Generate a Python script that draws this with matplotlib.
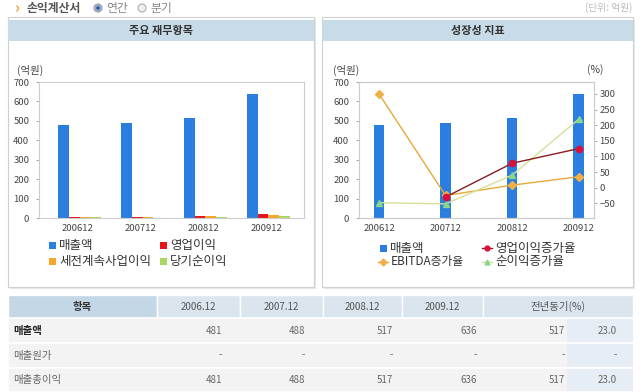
import numpy as np
import matplotlib
matplotlib.use('Agg')
import matplotlib.pyplot as plt
from matplotlib.patches import Rectangle, Circle

plt.rcParams['font.family'] = ['Noto Sans CJK KR', 'DejaVu Sans']

# 데이터
years = ['200612', '200712', '200812', '200912']
sales = [481, 488, 517, 636]
op_income = [6, 5, 11, 22]
pretax_income = [5, 4, 10, 17]
net_income = [3, 2, 6, 11]

op_growth = [np.nan, -30, 78, 125]
ebitda_growth = [300, -25, 8, 35]
net_growth = [-48, -52, 40, 219]

table_head = ['항목', '2006.12', '2007.12', '2008.12', '2009.12', '전년동기(%)']
table_items = ['매출액', '매출원가', '매출총이익']
table_vals = [['481', '488', '517', '636', '517', '23.0'],
              ['-', '-', '-', '-', '-', '-'],
              ['481', '488', '517', '636', '517', '23.0']]

c_sales = '#2a7ee0'
c_op = '#e3151a'
c_pre = '#f7a628'
c_net = '#a9d862'
grey = '#444444'

W, H = 640, 392
fig = plt.figure(figsize=(6.4, 3.92), dpi=100)

def px(x0, y0, x1, y1):
    return [x0 / W, 1 - y1 / H, (x1 - x0) / W, (y1 - y0) / H]

# 배경 (픽셀 좌표)
bg = fig.add_axes([0, 0, 1, 1])
bg.set_xlim(0, W)
bg.set_ylim(H, 0)
bg.axis('off')

# 상단 메뉴
bg.text(14, 8, '›', color='#f0a040', fontsize=11, va='center', fontweight='bold')
bg.text(27, 8, '손익계산서', color='#555555', fontsize=8.5, va='center', fontweight='bold')
bg.add_patch(Circle((98, 8), 4, facecolor='#8fb0d8', edgecolor='#a0a0a0', lw=0.8))
bg.add_patch(Circle((98, 8), 1.8, facecolor='#3060a0', edgecolor='none'))
bg.text(106, 8, '연간', color='#888888', fontsize=8.5, va='center')
bg.add_patch(Circle((142, 8), 4, facecolor='#eeeeee', edgecolor='#b0b0b0', lw=0.8))
bg.text(150, 8, '분기', color='#888888', fontsize=8.5, va='center')
bg.text(632, 8, '(단위: 억원)', color='#bbbbbb', fontsize=7, va='center', ha='right')

# 패널
for x0, x1, title in [(8, 314, '주요 재무항목'), (322, 633, '성장성 지표')]:
    bg.add_patch(Rectangle((x0 + 2, 19), x1 - x0, 270, facecolor='#e8e8e8', edgecolor='none'))
    bg.add_patch(Rectangle((x0, 17), x1 - x0, 270, facecolor='white', edgecolor='#d0d0d0', lw=0.8))
    bg.add_patch(Rectangle((x0, 20), x1 - x0, 21, facecolor='#c8dbe9', edgecolor='none'))
    bg.text((x0 + x1) / 2, 30.5, title, fontsize=8, fontweight='bold', color='#333333',
            ha='center', va='center')

# 왼쪽 차트
ax1 = fig.add_axes(px(39, 82, 304, 218))
x = np.arange(len(years))
bw = 0.17
for i, (vals, col) in enumerate([(sales, c_sales), (op_income, c_op),
                                 (pretax_income, c_pre), (net_income, c_net)]):
    ax1.bar(x - 1.5 * bw + i * bw, vals, bw, color=col, zorder=2)
ax1.set_xlim(-0.65, 3.57)
ax1.set_ylim(0, 700)
ax1.set_yticks(range(0, 701, 100))
ax1.set_xticks(x - 0.03)
ax1.set_xticklabels(years)

# 오른쪽 차트
ax2 = fig.add_axes(px(359, 82, 594, 218))
ax2.bar(x, sales, 0.16, color=c_sales, zorder=2)
ax2.set_xlim(-0.3, 3.23)
ax2.set_ylim(0, 700)
ax2.set_yticks(range(0, 701, 100))
ax2.set_xticks(x)
ax2.set_xticklabels(years)
ax3 = ax2.twinx()
ax3.set_ylim(-97, 338)
ax3.set_yticks(range(-50, 301, 50))
ax3.plot(x, ebitda_growth, color='#e8a838', lw=1, marker='D', ms=4,
         mfc='#f0b048', mec='#f0b048', zorder=3)
ax3.plot(x, op_growth, color='#8a1a20', lw=1, marker='o', ms=4.5,
         mfc='#d8103c', mec='#d8103c', zorder=4)
ax3.plot(x, net_growth, color='#d8df98', lw=1, marker='^', ms=5,
         mfc='#88d888', mec='#88d888', zorder=3)

for a in (ax1, ax2, ax3):
    for s in a.spines.values():
        s.set_color('#cccccc')
        s.set_linewidth(0.8)
    a.tick_params(labelsize=6.8, colors=grey, length=2, pad=2, width=0.6)
    a.tick_params(axis='y', colors='#999999', labelcolor=grey)
ax1.tick_params(axis='y', pad=5)
ax2.tick_params(axis='y', pad=5)
ax1.tick_params(axis='x', length=0, pad=4)
ax2.tick_params(axis='x', length=0, pad=4)

bg.text(17, 70, '(억원)', fontsize=7.5, color=grey, va='center')
bg.text(333, 70, '(억원)', fontsize=7.5, color=grey, va='center')
bg.text(587, 70, '(%)', fontsize=7.5, color=grey, va='center')

# 범례 (왼쪽)
leg_left = [(52, 245, c_sales, '매출액'), (163, 245, c_op, '영업이익'),
            (52, 261, c_pre, '세전계속사업이익'), (163, 261, c_net, '당기순이익')]
for lx, ly, col, lab in leg_left:
    bg.add_patch(Rectangle((lx - 3.5, ly - 3.5), 7, 7, facecolor=col, edgecolor='none'))
    bg.text(lx + 7, ly, lab, fontsize=9, color='#333333', va='center')

# 범례 (오른쪽)
bg.add_patch(Rectangle((383 - 3.5, 248 - 3.5), 7, 7, facecolor=c_sales, edgecolor='none'))
bg.text(390, 248, '매출액', fontsize=9, color='#333333', va='center')
leg_right = [(487, 248, '#8a1a20', '#d8103c', 'o', '영업이익증가율'),
             (383, 262, '#e8a838', '#f0b048', 'D', 'EBITDA증가율'),
             (487, 262, '#d8df98', '#88d888', '^', '순이익증가율')]
for lx, ly, lc, mc, mk, lab in leg_right:
    bg.plot([lx - 5, lx + 5], [ly, ly], color=lc, lw=1)
    bg.plot([lx], [ly], marker=mk, ms=3.5, color=mc)
    bg.text(lx + 8, ly, lab, fontsize=9 if mk != 'D' else 8.5, color='#333333', va='center')

# 표
col_edges = [8, 157, 240, 323, 402, 483, 633]
row_edges = [295, 318, 343, 368, 392]
for j in range(len(table_head)):
    x0, x1 = col_edges[j], col_edges[j + 1]
    fc = '#c3d7e7' if j == 0 else '#dbe5ee'
    bg.add_patch(Rectangle((x0, row_edges[0]), x1 - x0, row_edges[1] - row_edges[0],
                           facecolor=fc, edgecolor='white', lw=1))
    bg.text((x0 + x1) / 2, (row_edges[0] + row_edges[1]) / 2, table_head[j],
            fontsize=7.5 if j == 0 or j == 5 else 7, color='#555555' if j else '#333333',
            ha='center', va='center', fontweight='bold' if j == 0 else 'normal')

for r, item in enumerate(table_items):
    y0, y1 = row_edges[r + 1], row_edges[r + 2]
    yc = (y0 + y1) / 2
    bg.add_patch(Rectangle((8, y0), 625, y1 - y0, facecolor='#f3f3f3',
                           edgecolor='white', lw=1.2))
    bg.add_patch(Rectangle((567, y0 + 0.6), 66, y1 - y0 - 1.2, facecolor='#e6edf5',
                           edgecolor='none'))
    bg.text(13, yc, item, fontsize=7.5, color='#222222' if r == 0 else '#666666',
            va='center', fontweight='bold' if r == 0 else 'normal')
    ends = [222, 305, 393, 477, 565, 617]
    for j, v in enumerate(table_vals[r]):
        bg.text(ends[j], yc, v, fontsize=7, color='#666666', ha='right', va='center')

fig.savefig('out.png', dpi=100)
